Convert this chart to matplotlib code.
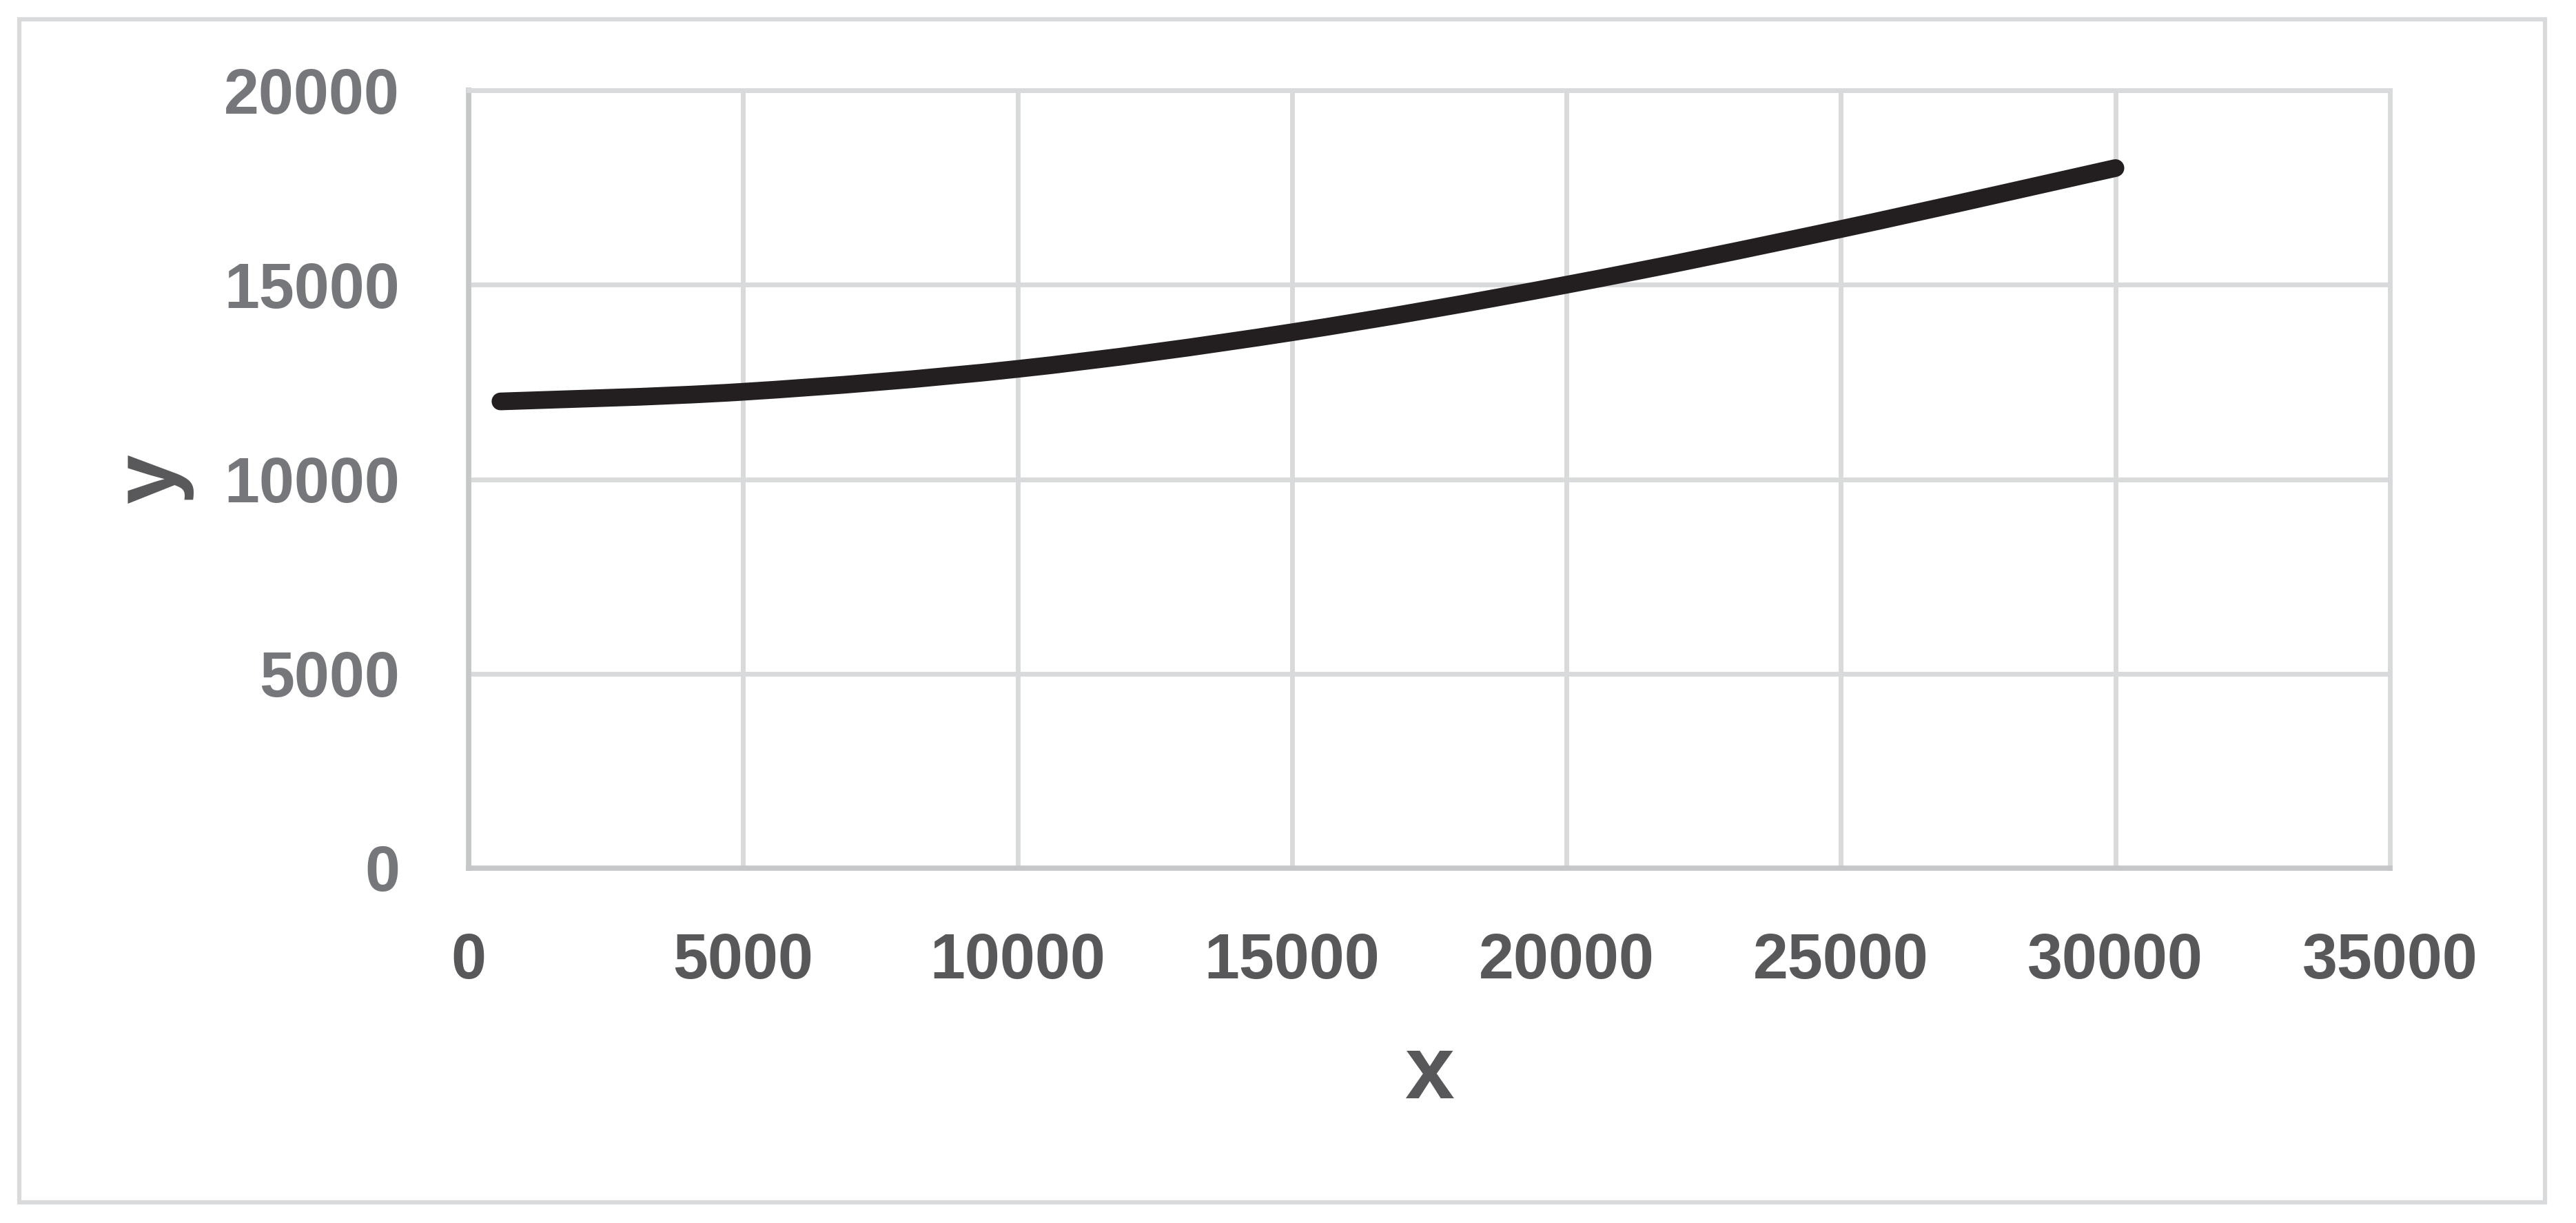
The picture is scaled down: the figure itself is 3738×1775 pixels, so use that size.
import matplotlib
matplotlib.use("Agg")
import matplotlib.pyplot as plt
from matplotlib.path import Path
from matplotlib.patches import PathPatch, Rectangle

# ---- data ----
x_vals = [580, 5000, 10000, 15000, 20000, 25000, 30000]
y_vals = [12000, 12248, 12836, 13778, 15000, 16433, 18000]
x_ticks = [0, 5000, 10000, 15000, 20000, 25000, 30000, 35000]
y_ticks = [0, 5000, 10000, 15000, 20000]
x_label = "x"
y_label = "y"

W, H, DPI = 3738, 1775, 100
fig = plt.figure(figsize=(W / DPI, H / DPI), dpi=DPI)
fig.patch.set_facecolor("white")

left, right, top, bottom = 680, 3468, 131, 1260
ax = fig.add_axes([left / W, 1 - bottom / H, (right - left) / W, (bottom - top) / H])

ax.set_xlim(0, 35000)
ax.set_ylim(0, 20000)
ax.set_xticks(x_ticks)
ax.set_yticks(y_ticks)
ax.set_xticklabels([str(t) for t in x_ticks])
ax.set_yticklabels([str(t) for t in y_ticks])

grid_c = "#d9dadb"
axis_c = "#c6c7c8"
ax.grid(True, color=grid_c, linewidth=5, zorder=0)
ax.set_axisbelow(True)
for s in ["top", "right"]:
    ax.spines[s].set_color(grid_c)
    ax.spines[s].set_linewidth(5)
for s in ["left", "bottom"]:
    ax.spines[s].set_color(axis_c)
    ax.spines[s].set_linewidth(5.5)

ax.tick_params(axis="both", length=0)
ax.tick_params(axis="x", pad=67, labelcolor="#58585a")
ax.tick_params(axis="y", pad=72, labelcolor="#76777b")
for lab in ax.get_xticklabels() + ax.get_yticklabels():
    lab.set_fontfamily("Liberation Sans")
    lab.set_fontweight("bold")
    lab.set_fontsize(66)

# smooth curve (Catmull-Rom converted to cubic Bezier, in data coordinates)
pts = list(zip(x_vals, y_vals))
verts = [pts[0]]
codes = [Path.MOVETO]
n = len(pts)
for i in range(n - 1):
    p0 = pts[i - 1] if i > 0 else pts[i]
    p1 = pts[i]
    p2 = pts[i + 1]
    p3 = pts[i + 2] if i + 2 < n else pts[i + 1]
    c1 = (p1[0] + (p2[0] - p0[0]) / 6, p1[1] + (p2[1] - p0[1]) / 6)
    c2 = (p2[0] - (p3[0] - p1[0]) / 6, p2[1] - (p3[1] - p1[1]) / 6)
    verts += [c1, c2, p2]
    codes += [Path.CURVE4] * 3
patch = PathPatch(Path(verts, codes), facecolor="none", edgecolor="#231f20",
                  linewidth=18.5, capstyle="round", joinstyle="round", zorder=3)
patch.set_clip_on(False)
ax.add_patch(patch)

ax.set_xlabel(x_label, fontfamily="Liberation Sans", fontweight="bold",
              fontsize=93, color="#58585a")
ax.xaxis.set_label_coords(0.5, -0.213)
ax.set_ylabel(y_label, fontfamily="Liberation Sans", fontweight="bold",
              fontsize=93, color="#58585a")
ax.yaxis.set_label_coords(-0.143, 0.5)

# outer chart border
fig.patches.append(Rectangle((28 / W, 1 - 1745 / H), (3693 - 28) / W, (1745 - 28) / H,
                             transform=fig.transFigure, fill=False,
                             edgecolor=grid_c, linewidth=4.5))

fig.savefig("out.png", dpi=DPI, facecolor="white")
